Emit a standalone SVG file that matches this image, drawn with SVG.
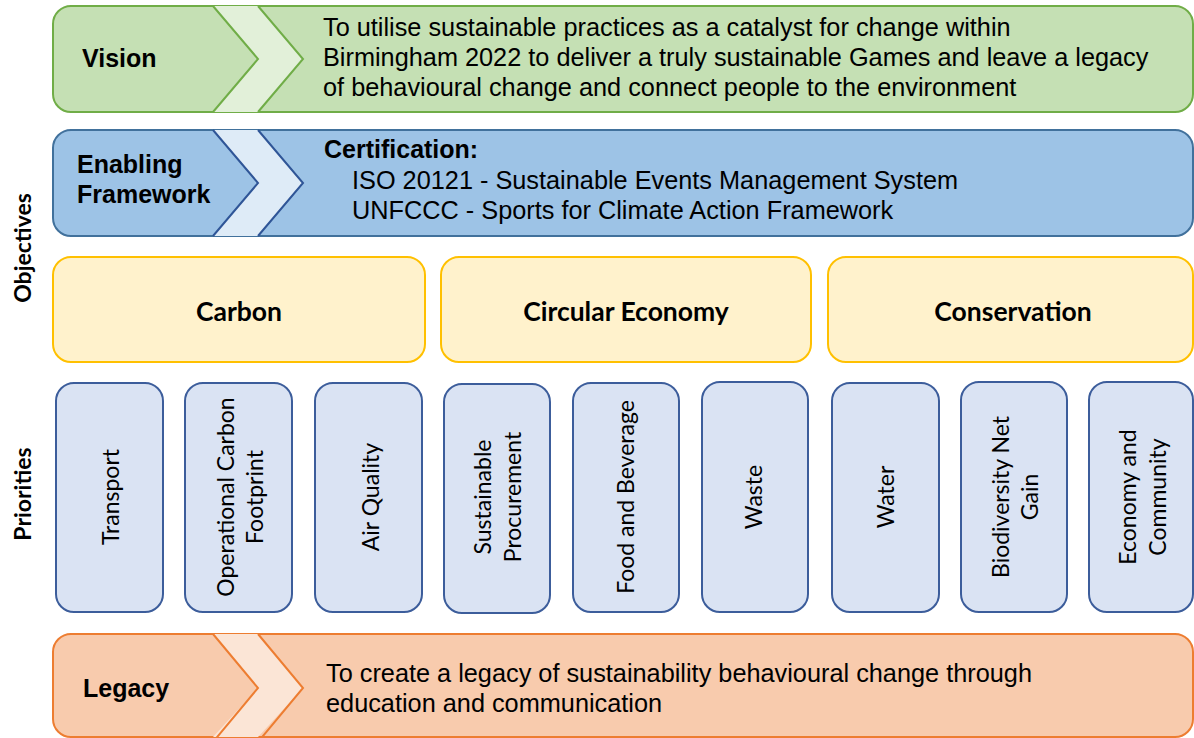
<svg xmlns="http://www.w3.org/2000/svg" width="1194" height="738" viewBox="0 0 1194 738">
<style>
.lbl{font-family:"Liberation Sans",Arial,sans-serif;font-weight:bold;font-size:25px;fill:#000}
.body{font-family:"Liberation Sans",Arial,sans-serif;font-size:25.3px;fill:#000}
.obj{font-family:Lato,"Open Sans",sans-serif;font-weight:bold;font-size:26.5px;fill:#000}
.pri{font-family:Lato,"Open Sans",sans-serif;font-size:23px;fill:#000}
.side{font-family:Lato,"Open Sans",sans-serif;font-weight:bold;font-size:23px;fill:#000}
.ybox{fill:#fff2cc;stroke:#ffc000;stroke-width:2}
.pbox{fill:#dae3f3;stroke:#3c5d9b;stroke-width:2}
</style>
<rect width="1194" height="738" fill="#fff"/>

<g id="vision">
  <rect x="53" y="6" width="1140" height="106" rx="18" fill="#c5e0b4" stroke="#70ad47" stroke-width="2"/>
  <polygon points="213,6 258,6 303,59 258,112 213,112 258,59" fill="#e2f0d9"/>
  <polyline points="213,6 258,59 213,112" fill="none" stroke="#70ad47" stroke-width="2"/>
  <polyline points="258,6 303,59 258,112" fill="none" stroke="#70ad47" stroke-width="2"/>
  <text class="lbl" x="82" y="67">Vision</text>
  <text class="body" x="323" y="36">To utilise sustainable practices as a catalyst for change within</text>
  <text class="body" x="323" y="66">Birmingham 2022 to deliver a truly sustainable Games and leave a legacy</text>
  <text class="body" x="323" y="96">of behavioural change and connect people to the environment</text>
</g>

<g id="enabling">
  <rect x="53" y="130" width="1140" height="106" rx="18" fill="#9dc3e6" stroke="#41719c" stroke-width="2"/>
  <polygon points="213,130 258,130 303,183 258,236 213,236 258,183" fill="#deebf7"/>
  <polyline points="213,130 258,183 213,236" fill="none" stroke="#2f5597" stroke-width="2"/>
  <polyline points="258,130 303,183 258,236" fill="none" stroke="#2f5597" stroke-width="2"/>
  <text class="lbl" x="77" y="173">Enabling</text>
  <text class="lbl" x="77" y="203">Framework</text>
  <text class="lbl" x="324" y="158">Certification:</text>
  <text class="body" x="352" y="189">ISO 20121 - Sustainable Events Management System</text>
  <text class="body" x="352" y="219">UNFCCC - Sports for Climate Action Framework</text>
</g>

<g id="label-objectives">
  <text class="side" transform="translate(22,248) rotate(-90)" text-anchor="middle" dominant-baseline="central">Objectives</text>
</g>
<g id="label-priorities">
  <text class="side" transform="translate(22,494) rotate(-90)" text-anchor="middle" dominant-baseline="central">Priorities</text>
</g>

<g id="carbon">
  <rect class="ybox" x="53" y="257" width="372" height="105" rx="18"/>
  <text class="obj" x="239" y="311" text-anchor="middle" dominant-baseline="central">Carbon</text>
</g>
<g id="circular-economy">
  <rect class="ybox" x="441" y="257" width="370" height="105" rx="18"/>
  <text class="obj" x="626" y="311" text-anchor="middle" dominant-baseline="central">Circular Economy</text>
</g>
<g id="conservation">
  <rect class="ybox" x="828" y="257" width="365" height="105" rx="18"/>
  <text class="obj" x="1013" y="311" text-anchor="middle" dominant-baseline="central">Conservation</text>
</g>

<g id="transport">
  <rect class="pbox" x="56" y="383" width="107" height="229" rx="18"/>
  <text class="pri" transform="translate(110,497) rotate(-90)" text-anchor="middle" dominant-baseline="central">Transport</text>
</g>
<g id="operational-carbon">
  <rect class="pbox" x="185" y="383" width="107" height="229" rx="18"/>
  <text class="pri" transform="translate(225,497) rotate(-90)" text-anchor="middle" dominant-baseline="central">Operational Carbon</text>
  <text class="pri" transform="translate(254,497) rotate(-90)" text-anchor="middle" dominant-baseline="central">Footprint</text>
</g>
<g id="air-quality">
  <rect class="pbox" x="315" y="383" width="107" height="229" rx="18"/>
  <text class="pri" transform="translate(370,497) rotate(-90)" text-anchor="middle" dominant-baseline="central">Air Quality</text>
</g>
<g id="sustainable-procurement">
  <rect class="pbox" x="444" y="384" width="106" height="229" rx="18"/>
  <text class="pri" transform="translate(482,497) rotate(-90)" text-anchor="middle" dominant-baseline="central">Sustainable</text>
  <text class="pri" transform="translate(512,497) rotate(-90)" text-anchor="middle" dominant-baseline="central">Procurement</text>
</g>
<g id="food-beverage">
  <rect class="pbox" x="573" y="383" width="106" height="229" rx="18"/>
  <text class="pri" transform="translate(625,497) rotate(-90)" text-anchor="middle" dominant-baseline="central">Food and Beverage</text>
</g>
<g id="waste">
  <rect class="pbox" x="702" y="382" width="106" height="230" rx="18"/>
  <text class="pri" transform="translate(753,497) rotate(-90)" text-anchor="middle" dominant-baseline="central">Waste</text>
</g>
<g id="water">
  <rect class="pbox" x="832" y="383" width="107" height="229" rx="18"/>
  <text class="pri" transform="translate(885,497) rotate(-90)" text-anchor="middle" dominant-baseline="central">Water</text>
</g>
<g id="biodiversity">
  <rect class="pbox" x="961" y="382" width="106" height="230" rx="18"/>
  <text class="pri" transform="translate(1000,497) rotate(-90)" text-anchor="middle" dominant-baseline="central">Biodiversity Net</text>
  <text class="pri" transform="translate(1029,497) rotate(-90)" text-anchor="middle" dominant-baseline="central">Gain</text>
</g>
<g id="economy-community">
  <rect class="pbox" x="1089" y="382" width="104" height="230" rx="18"/>
  <text class="pri" transform="translate(1127,497) rotate(-90)" text-anchor="middle" dominant-baseline="central">Economy and</text>
  <text class="pri" transform="translate(1157,497) rotate(-90)" text-anchor="middle" dominant-baseline="central">Community</text>
</g>

<g id="legacy">
  <rect x="53" y="634" width="1140" height="103" rx="18" fill="#f8cbad" stroke="#ed7d31" stroke-width="2"/>
  <polygon points="213,634 258,634 303,688 258,737 213,737 258,688" fill="#fbe5d6"/>
  <polyline points="213,634 258,688 213,742" fill="none" stroke="#ed7d31" stroke-width="2"/>
  <polyline points="258,634 303,688 258,742" fill="none" stroke="#ed7d31" stroke-width="2"/>
  <text class="lbl" x="83" y="697">Legacy</text>
  <text class="body" x="326" y="682">To create a legacy of sustainability behavioural change through</text>
  <text class="body" x="326" y="712">education and communication</text>
</g>

<g id="connectors"></g>
</svg>
